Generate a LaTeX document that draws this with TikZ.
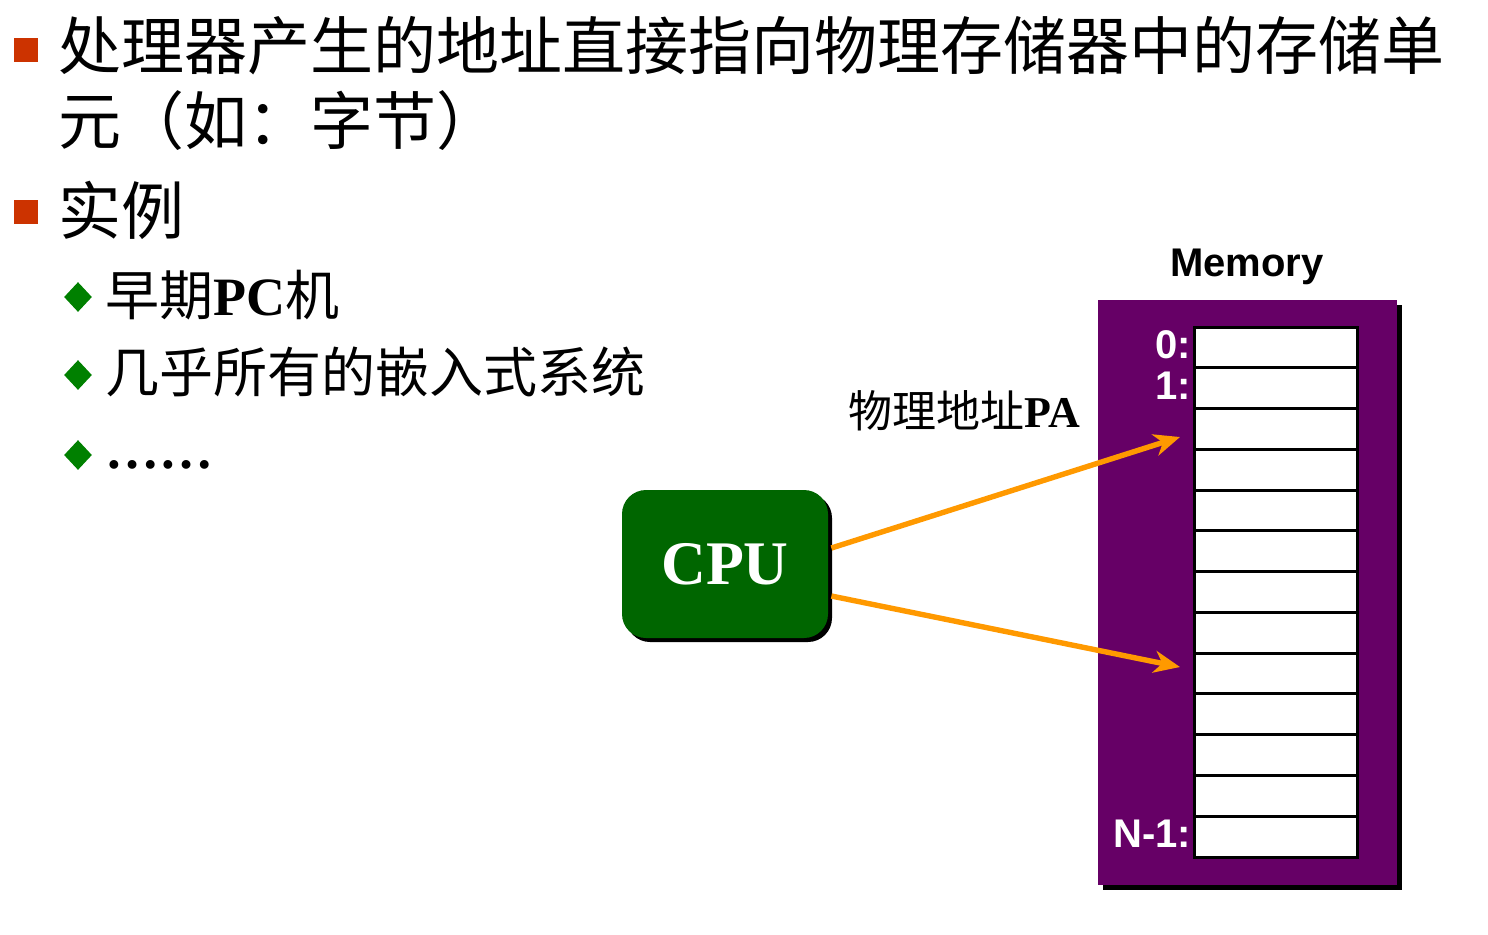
\documentclass[tikz,border=0pt]{standalone}
\usepackage{fontspec}
\usetikzlibrary{arrows.meta,shadows,calc,shapes.geometric}
\newfontfamily\cjkfont{Noto Sans CJK SC}
\newfontfamily\timesfont{Liberation Serif}
\newfontfamily\arialfont{Liberation Sans}
\definecolor{bulletred}{HTML}{CC3300}
\definecolor{bulletgreen}{HTML}{008000}
\definecolor{cpugreen}{HTML}{006600}
\definecolor{mempurple}{HTML}{660066}
\definecolor{arroworange}{HTML}{FF9900}
\begin{document}
\begin{tikzpicture}[x=0.5pt,y=-0.5pt,
  sqbullet/.style={fill=bulletred, minimum size=12pt, inner sep=0pt, draw=none},
  diabullet/.style={fill=bulletgreen, diamond, minimum width=14pt, minimum height=15pt, inner sep=0pt},
  bigtext/.style={anchor=base west, inner sep=0pt, font=\cjkfont\fontsize{31.5pt}{31.5pt}\selectfont},
  midtext/.style={anchor=base west, inner sep=0pt, font=\cjkfont\fontsize{27pt}{27pt}\selectfont},
  cpubox/.style={rounded corners=12pt, fill=cpugreen, minimum width=103pt, minimum height=74pt,
    inner sep=0pt, text=white, font=\timesfont\bfseries\fontsize{31pt}{31pt}\selectfont,
    drop shadow={shadow xshift=2pt, shadow yshift=-2pt, fill=black, opacity=1}},
  membox/.style={fill=mempurple, minimum width=149.5pt, minimum height=292.5pt, inner sep=0pt,
    drop shadow={shadow xshift=2.5pt, shadow yshift=-2.5pt, fill=black, opacity=1}},
  cell/.style={draw=black, line width=1.5pt, fill=white, minimum width=81.5pt, minimum height=20.38pt, inner sep=0pt},
  addr/.style={text=white, inner sep=0pt, anchor=base east, font=\arialfont\bfseries\fontsize{20pt}{20pt}\selectfont},
  arr/.style={draw=arroworange, line width=2.7pt, -{Stealth[length=13pt,width=11pt,inset=4pt]}}
]
\useasboundingbox (0,0) rectangle (1488,934);

% top-level bullets
\node[sqbullet] (b1) at (26,50) {};
\node[bigtext] (t1) at (58,69) {处理器产生的地址直接指向物理存储器中的存储单};
\node[bigtext] (t2) at (58,144) {元（如：字节）};
\node[sqbullet] (b2) at (26,212) {};
\node[bigtext] (t3) at (58,234) {实例};

% sub bullets
\node[diabullet] (d1) at (78,297) {};
\node[midtext] (s1) at (105,315) {早期{\timesfont\bfseries PC}机};
\node[diabullet] (d2) at (78,375) {};
\node[midtext] (s2) at (105,392) {几乎所有的嵌入式系统};
\node[diabullet] (d3) at (78,455) {};
\node[midtext] (s3) at (105,468) {\timesfont\bfseries ……};

% processor
\node[cpubox] (cpu) at (725,564) {CPU};

% memory
\node[anchor=base, inner sep=0pt, font=\arialfont\bfseries\fontsize{20pt}{20pt}\selectfont] (memtitle) at (1247,276) {Memory};
\node[membox] (mem) at (1247.5,592.5) {};
\foreach \i in {0,...,12}
  \node[cell] (c\i) at (1275.5,{347.4+\i*40.77}) {};
\node[addr] (l0) at ($(c0.south west)+(-1,-11)$) {0:};
\node[addr] (l1) at ($(c1.south west)+(-1,-11)$) {1:};
\node[addr] (ln) at ($(c12.south west)+(-1,-11)$) {N-1:};

% address label and arrows
\node[anchor=base west, inner sep=0pt, font=\cjkfont\fontsize{22pt}{22pt}\selectfont] (pa) at (848,427) {物理地址{\timesfont\bfseries PA}};
\coordinate (e1) at (1180,437);
\coordinate (e2) at (1180,667);
\draw[arr] ($(cpu.east)+(3,-16)$) -- (e1);
\draw[arr] ($(cpu.east)+(3,32)$) -- (e2);
\end{tikzpicture}
\end{document}
